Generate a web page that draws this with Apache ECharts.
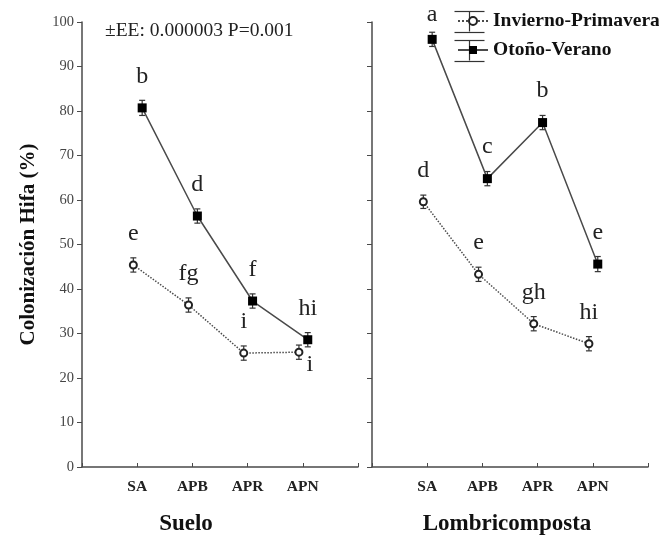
<!DOCTYPE html>
<html>
<head>
<meta charset="utf-8">
<script src="https://cdn.jsdelivr.net/npm/echarts@6/dist/echarts.min.js"></script>
<style>
html,body{margin:0;padding:0;background:#fff}
#divApp{width:659px;height:538px}
</style>
</head>
<body>
<div id="divApp"></div>
<script>
// categories / data
var cats = ['SA','APB','APR','APN']
var panels = ['Suelo','Lombricomposta']

var suelo_inv = [45.4, 36.4, 25.6, 25.8]
var suelo_oto = [80.7, 56.4, 37.3, 28.6]
var lomb_inv  = [59.6, 43.3, 32.2, 27.7]
var lomb_oto  = [96.1, 64.8, 77.4, 45.6]

var suelo_inv_ee = [1.6, 1.6, 1.6, 1.6]
var suelo_oto_ee = [1.7, 1.6, 1.6, 1.6]
var lomb_inv_ee  = [1.5, 1.6, 1.6, 1.6]
var lomb_oto_ee  = [1.6, 1.6, 1.6, 1.7]

var suelo_inv_let = ['e','fg','i','i']
var suelo_oto_let = ['b','d','f','hi']
var lomb_inv_let  = ['d','e','gh','hi']
var lomb_oto_let  = ['a','c','b','e']

var serif = '"Liberation Serif","DejaVu Serif",serif'
var ink = '#4a4a4a'
var OFF_INV = -0.07, OFF_OTO = 0.09

var pts = (vals, off)=>vals.map((v,i)=>[i+1+off, v])
var ebs = (vals, ee, off)=>vals.map((v,i)=>[i+1+off, v, ee[i]])

var letterLabel = {show:true, position:'top', distance:15, fontFamily:serif, fontSize:24, color:'#222',
  formatter:p=>p.data.let}
var withLetters = (arr, lets, special)=>arr.map((d,i)=>{
  var o = {value:d, let:lets[i]}
  if (special && special[i]) o.label = special[i]
  return o
})

function errRender(params, api){
  var x = api.value(0), y = api.value(1), e = api.value(2)
  var hi = api.coord([x, y+e]), lo = api.coord([x, y-e])
  var w = 3
  var st = {stroke:'#333', lineWidth:1.2}
  return {type:'group', children:[
    {type:'line', shape:{x1:hi[0],y1:hi[1],x2:lo[0],y2:lo[1]}, style:st},
    {type:'line', shape:{x1:hi[0]-w,y1:hi[1],x2:hi[0]+w,y2:hi[1]}, style:st},
    {type:'line', shape:{x1:lo[0]-w,y1:lo[1],x2:lo[0]+w,y2:lo[1]}, style:st}
  ]}
}

var xAx = (gi)=>({
  type:'value', gridIndex:gi, min:0, max:5, interval:1,
  name:panels[gi], nameLocation:'middle', nameGap:46,
  nameTextStyle:{fontFamily:serif, fontWeight:'bold', fontSize:23, color:'#111',
    padding: gi==0 ? [0,68,0,0] : [0,6,0,0]},
  axisLine:{lineStyle:{color:ink, width:1.5}},
  axisTick:{inside:true, length:4, lineStyle:{color:ink}},
  splitLine:{show:false},
  axisLabel:{margin:12, fontFamily:serif, fontWeight:'bold', fontSize:15.5, color:'#222',
    formatter:v=>cats[v-1] || ''}
})
var yAx = (gi)=>({
  type:'value', gridIndex:gi, min:0, max:100, interval:10,
  name: gi==0 ? 'Colonización Hifa (%)' : '', nameLocation:'middle', nameGap:43, nameRotate:90,
  nameTextStyle:{fontFamily:serif, fontWeight:'bold', fontSize:21, color:'#111'},
  axisLine:{show:true, lineStyle:{color:ink, width:1.5}},
  axisTick:{show:true, length:5, lineStyle:{color:ink}},
  splitLine:{show:false},
  axisLabel:{show:gi==0, margin:8, fontFamily:serif, fontSize:14.5, color:'#444'}
})

var invLine = {type:'dotted', width:1.5, color:ink}
var otoLine = {type:'solid', width:1.5, color:ink}
var invSym = {symbol:'emptyCircle', symbolSize:7, itemStyle:{color:'#222', borderWidth:1.3}}
var otoSym = {symbol:'rect', symbolSize:9, itemStyle:{color:'#000'}}

var series = []
;[[suelo_inv, suelo_inv_ee, suelo_inv_let, suelo_oto, suelo_oto_ee, suelo_oto_let],
  [lomb_inv, lomb_inv_ee, lomb_inv_let, lomb_oto, lomb_oto_ee, lomb_oto_let]].forEach((p,gi)=>{
  var spInv = gi==0 ? [null,null,null,{position:'bottom', offset:[11,-4], distance:0}] : null
  var spOto = gi==1 ? [{distance:8}] : null
  series.push({name:'Invierno-Primavera', type:'line', xAxisIndex:gi, yAxisIndex:gi, z:3,
    lineStyle:invLine, ...invSym, label:letterLabel,
    data:withLetters(pts(p[0], OFF_INV), p[2], spInv)})
  series.push({name:'Otoño-Verano', type:'line', xAxisIndex:gi, yAxisIndex:gi, z:3,
    lineStyle:otoLine, ...otoSym, label:letterLabel,
    data:withLetters(pts(p[3], OFF_OTO), p[5], spOto)})
  series.push({type:'custom', xAxisIndex:gi, yAxisIndex:gi, z:2, renderItem:errRender,
    data:ebs(p[0], p[1], OFF_INV), silent:true})
  series.push({type:'custom', xAxisIndex:gi, yAxisIndex:gi, z:2, renderItem:errRender,
    data:ebs(p[3], p[4], OFF_OTO), silent:true})
})

// legend caps (error-bar style legend glyph)
var cap = (y)=>({type:'line', left:452, top:y, shape:{x1:0,y1:0,x2:30,y2:0}, style:{stroke:'#333', lineWidth:1.2}})
var vbar = (y)=>({type:'line', left:467, top:y, shape:{x1:0,y1:0,x2:0,y2:20}, style:{stroke:'#333', lineWidth:1.2}})

var option = {
  backgroundColor:'#fff',
  animation:false,
  grid:[
    {left:82, right:301, top:22, bottom:71, outerBoundsMode:'none'},
    {left:372, right:11, top:22, bottom:71, outerBoundsMode:'none'}
  ],
  xAxis:[xAx(0), xAx(1)],
  yAxis:[yAx(0), yAx(1)],
  title:{text:'±EE: 0.000003 P=0.001', left:100, top:16,
    textStyle:{fontFamily:serif, fontWeight:'normal', fontSize:19.5, color:'#222'}},
  legend:{orient:'vertical', left:452, top:6, itemWidth:30, itemHeight:10, itemGap:9,
    data:['Invierno-Primavera','Otoño-Verano'],
    textStyle:{fontFamily:serif, fontWeight:'bold', fontSize:19.5, color:'#111'}},
  graphic:[cap(9), cap(30), vbar(9), cap(38), cap(59), vbar(38)],
  series:series
}

var chart = echarts.init(document.getElementById('divApp'))
chart.setOption(option)
</script>
</body>
</html>
